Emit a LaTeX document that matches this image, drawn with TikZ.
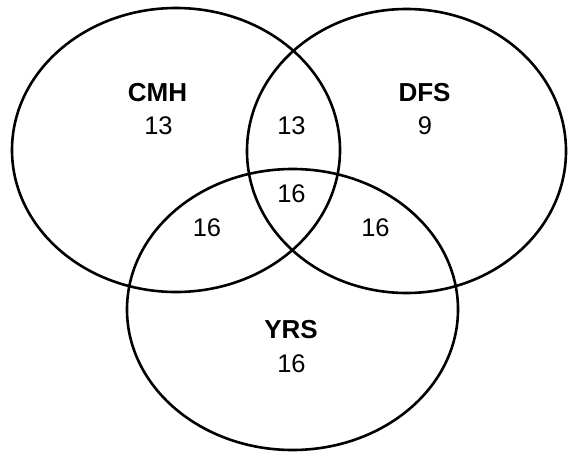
\documentclass[tikz,border=0pt]{standalone}
\usepackage{fontspec}
\setmainfont{Liberation Sans}
\begin{document}
\begin{tikzpicture}[x=1pt,y=-1pt,
  ring/.style={draw=black,line width=2.6pt},
  setname/.style={font=\fontsize{26pt}{29pt}\selectfont\bfseries,inner sep=0pt,anchor=center},
  count/.style={font=\fontsize{25.5pt}{28pt}\selectfont,inner sep=0pt,anchor=center}]
\useasboundingbox[fill=white] (0,0) rectangle (568,453);
\draw[ring] (176,150) ellipse [x radius=164pt, y radius=142pt];
\draw[ring] (406.5,151) ellipse [x radius=159.5pt, y radius=142pt];
\draw[ring] (292.5,309.5) ellipse [x radius=165.5pt, y radius=140.5pt];
\node[setname] (cmh) at (157.5,92.5) {CMH};
\node[count] (cmhn) at (158.5,126) {13};
\node[setname] (dfs) at (424.5,92.5) {DFS};
\node[count] (dfsn) at (425,126) {9};
\node[count] (cd) at (291.5,126) {13};
\node[count] (cdy) at (291.5,194) {16};
\node[count] (cy) at (207,227.5) {16};
\node[count] (dy) at (375.5,227.5) {16};
\node[setname] (yrs) at (291,329.5) {YRS};
\node[count] (yrsn) at (291.5,363.5) {16};
\end{tikzpicture}
\end{document}
